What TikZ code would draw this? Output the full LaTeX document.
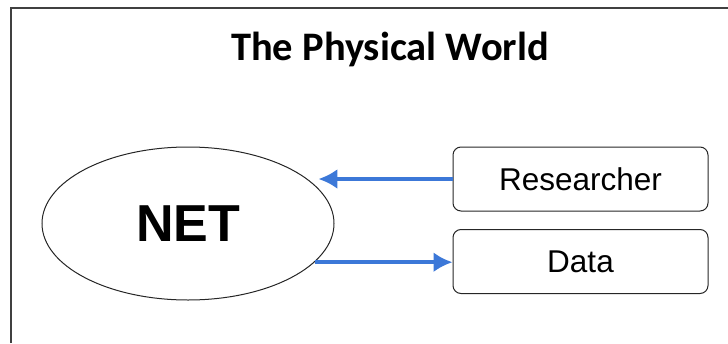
\documentclass[tikz,border=0pt]{standalone}
\usepackage{fontspec}
\setmainfont{Liberation Sans}
\newfontfamily\titlefont{Carlito}
\usepackage{tikz}
\usetikzlibrary{shapes.geometric,arrows.meta}
\definecolor{flowblue}{HTML}{3C78D8}

\begin{document}
\begin{tikzpicture}[x=1pt,y=-1pt,
  box/.style={draw=black!85,line width=1pt,rounded corners=8pt,minimum width=255pt,minimum height=64pt,inner sep=0pt,font=\fontsize{31.5}{33}\selectfont},
  flow/.style={draw=flowblue,line width=3.5pt,-{Latex[length=19pt,width=20pt]}}]
\useasboundingbox (0,0) rectangle (728,343);
\draw [black!75,line width=2pt] (11,343) -- (11,7.5) -- (728,7.5);
\node (title) [anchor=base,font=\titlefont\bfseries\fontsize{40.5}{42}\selectfont] at (390,60) {The Physical World};
\node (net) [draw=black!85,line width=1pt,ellipse,minimum width=292pt,minimum height=153pt,inner sep=0pt,font=\bfseries\fontsize{52}{54}\selectfont] at (188,223.5) {NET};
\node (res) [box] at (580.5,179) {Researcher};
\node (data) [box] at (580.5,261.5) {Data};
\draw [flow] (res.west) -- ([xshift=10pt]res.west -| net.20.5);
\draw [flow] (net.-17) -- (net.-17 -| data.west);
\end{tikzpicture}
\end{document}
